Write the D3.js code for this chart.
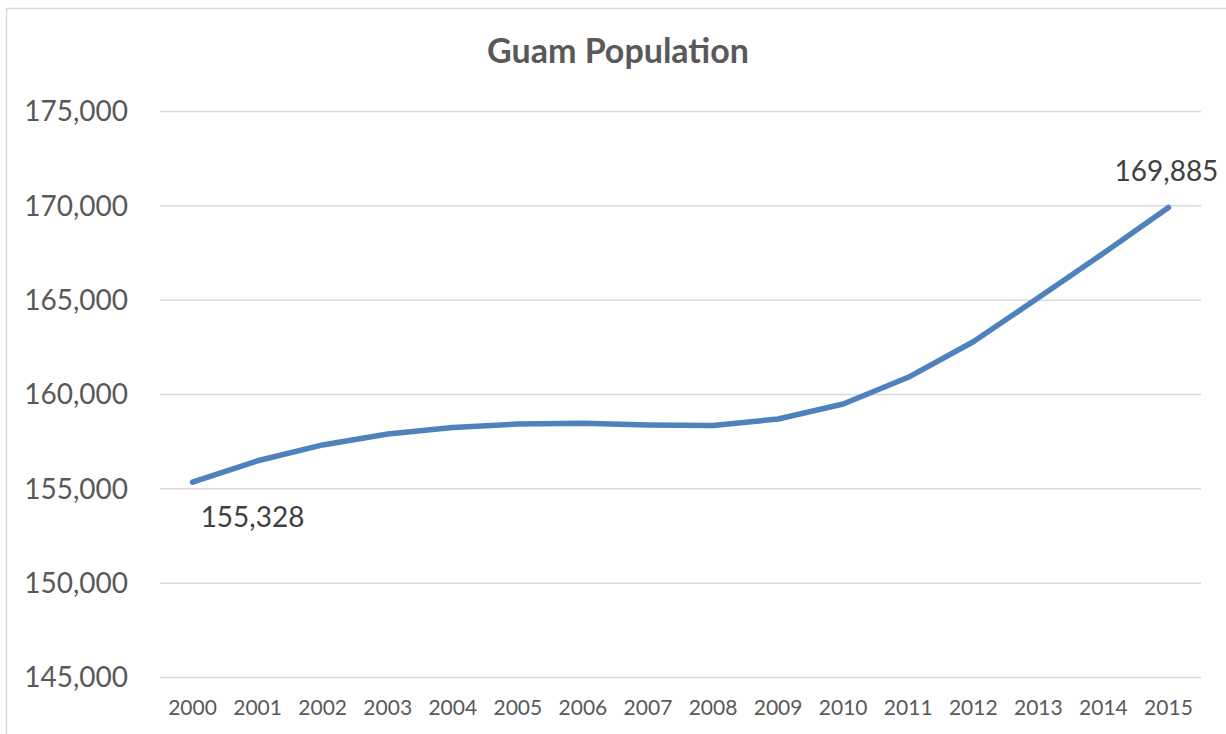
<!DOCTYPE html>
<html>
<head>
<meta charset="utf-8">
<script src="https://cdn.jsdelivr.net/npm/d3@7"></script>
<style>
  html, body { margin: 0; padding: 0; background: #fff; }
  svg { display: block; }
</style>
</head>
<body>
<svg id="chart" width="1226" height="734"></svg>
<script>
const title = "Guam Population";
const years = ["2000","2001","2002","2003","2004","2005","2006","2007","2008","2009","2010","2011","2012","2013","2014","2015"];
const population = [155328, 156460, 157300, 157880, 158230, 158410, 158450, 158360, 158330, 158675, 159470, 160885, 162770, 165100, 167460, 169885];
const yTicks = [145000, 150000, 155000, 160000, 165000, 170000, 175000];
const labeledIdx = [0, 15];

const svg = d3.select("#chart");
const W = 1226, H = 734;
const font = "Lato, 'Open Sans', sans-serif";

// chart border
svg.append("rect")
  .attr("x", 6.5).attr("y", 8.5)
  .attr("width", W + 10).attr("height", H + 10)
  .attr("fill", "#fff").attr("stroke", "#D9D9D9").attr("stroke-width", 1.5);

const x = d3.scaleBand().domain(years).range([160, 1201]);
const y = d3.scaleLinear().domain([145000, 175000]).range([677, 111]);

// gridlines + y labels
const yAxis = d3.axisLeft(y).tickValues(yTicks).tickSize(-(1201 - 160)).tickPadding(32)
  .tickFormat(d3.format(","));
const gy = svg.append("g").attr("transform", "translate(160,0)").call(yAxis);
gy.select(".domain").remove();
gy.selectAll(".tick line").attr("stroke", "#D9D9D9").attr("stroke-width", 1.5);
gy.selectAll(".tick text")
  .attr("fill", "#595959").attr("font-family", font).attr("font-size", 28)
  .attr("dy", "0.35em");

// x axis labels
const xAxis = d3.axisBottom(x).tickSize(0).tickPadding(0);
const gx = svg.append("g").attr("transform", "translate(0,677)").call(xAxis);
gx.select(".domain").remove();
gx.selectAll(".tick text")
  .attr("fill", "#595959").attr("font-family", font).attr("font-size", 21)
  .attr("y", 38).attr("dy", 0);

// line
const line = d3.line()
  .x((d, i) => x(years[i]) + x.bandwidth() / 2)
  .y(d => y(d));
svg.append("path")
  .datum(population)
  .attr("d", line)
  .attr("fill", "none")
  .attr("stroke", "#4F81BD")
  .attr("stroke-width", 5.5)
  .attr("stroke-linejoin", "round")
  .attr("stroke-linecap", "round");

// data labels
const fmt = d3.format(",");
svg.selectAll(".dlabel")
  .data(labeledIdx)
  .join("text")
  .attr("class", "dlabel")
  .attr("x", i => x(years[i]) + x.bandwidth() / 2 + (i === 0 ? 60 : -2))
  .attr("y", i => y(population[i]) + (i === 0 ? 45 : -27))
  .attr("text-anchor", "middle")
  .attr("fill", "#404040")
  .attr("font-family", font)
  .attr("font-size", 28)
  .text(i => fmt(population[i]));

// title
svg.append("text")
  .attr("x", 618).attr("y", 63)
  .attr("text-anchor", "middle")
  .attr("fill", "#595959")
  .attr("font-family", font)
  .attr("font-weight", "bold")
  .attr("font-size", 34)
  .text(title);
</script>
</body>
</html>
